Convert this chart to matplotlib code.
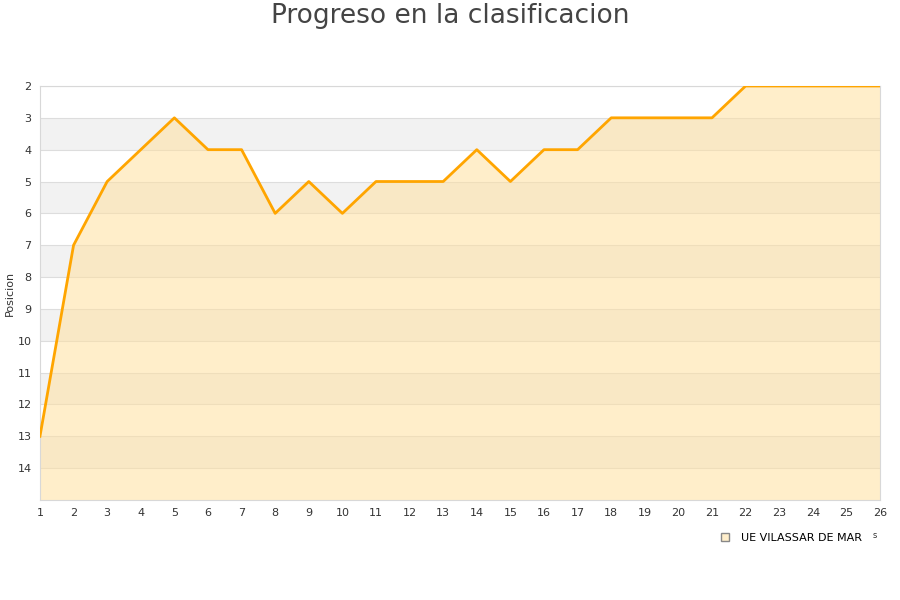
import matplotlib.pyplot as plt

jornadas = list(range(1, 27))
posicion = [13, 7, 5, 4, 3, 4, 4, 6, 5, 6, 5, 5, 5, 4, 5, 4, 4, 3, 3, 3, 3, 2, 2, 2, 2, 2]
equipo = "UE VILASSAR DE MAR"

fig = plt.figure(figsize=(9, 6), dpi=100)
ax = fig.add_axes([0.0444, 0.1667, 0.9334, 0.69])

# franjas alternas del fondo
for k in range(2, 15):
    if k % 2 == 1:
        ax.axhspan(k, k + 1, color="#f2f2f2", zorder=0, lw=0)
    ax.axhline(k, color="#dddddd", lw=0.8, zorder=1)

ax.fill_between(jornadas, posicion, 15, color="#ffe0a0", alpha=0.55, zorder=2, lw=0)
ax.plot(jornadas, posicion, color="#ffa500", lw=2, zorder=3)
ax.plot([], [], ls="none", marker="s", markersize=6, markerfacecolor="#ffeecb",
        markeredgecolor="#888888", label=equipo)

ax.set_xlim(1, 26)
ax.set_ylim(15, 2)
ax.set_xticks(jornadas)
ax.set_yticks(range(2, 15))
ax.tick_params(length=0, labelsize=8, colors="#333333", pad=6)
for s in ax.spines.values():
    s.set_color("#d8d8d8")
ax.set_ylabel("Posicion", fontsize=8, color="#333333", labelpad=2)

fig.suptitle("Progreso en la clasificacion", fontsize=19, color="#444444", y=0.995)
ax.legend(loc="upper right", bbox_to_anchor=(0.99, -0.055), frameon=False,
          fontsize=8, handletextpad=0.4)
fig.text(0.969, 0.103, "s", fontsize=6, color="#333333")

fig.savefig("out.png")
